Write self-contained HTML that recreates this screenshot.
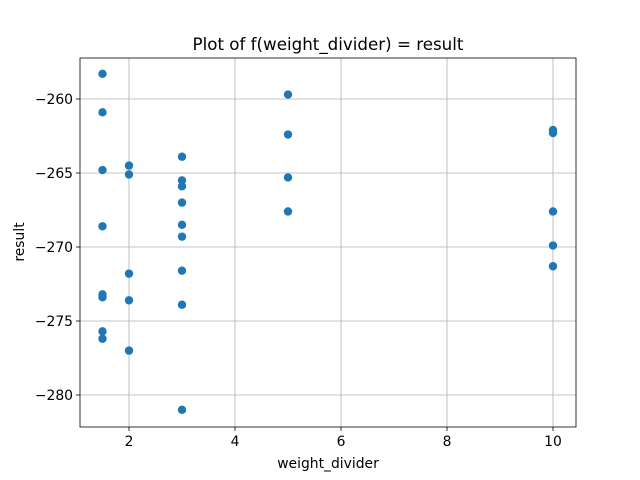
<!DOCTYPE html>
<html><head><meta charset="utf-8"><style>body{margin:0;background:#fff}svg{display:block;font-family:"DejaVu Sans","Liberation Sans",sans-serif}</style></head>
<body>
<svg id="c" width="640" height="480"></svg>
<script>
const xs=[1.5,1.5,1.5,1.5,1.5,1.5,1.5,1.5,2,2,2,2,2,3,3,3,3,3,3,3,3,3,5,5,5,5,10,10,10,10,10];
const ys=[-258.3,-260.9,-264.8,-268.6,-273.2,-273.4,-275.7,-276.2,-264.5,-265.1,-271.8,-273.6,-277.0,-263.9,-265.5,-265.9,-267.0,-268.5,-269.3,-271.6,-273.9,-281.0,-259.7,-262.4,-265.3,-267.6,-262.1,-262.3,-267.6,-269.9,-271.3];
const xTicks=[2,4,6,8,10];
const yTicks=[-260,-265,-270,-275,-280];
const L=80,R=576,T=58,B=427;
const X=v=>129+(v-2)*53;
const Y=v=>99+(-260-v)*14.8;
const svg=document.getElementById('c');const NS='http://www.w3.org/2000/svg';
function mk(t,a,txt){const e=document.createElementNS(NS,t);for(const k in a)e.setAttribute(k,a[k]);if(txt!==undefined)e.textContent=txt;svg.appendChild(e);return e;}
xTicks.forEach(t=>{const x=X(t);
let g=mk('line',{x1:x,x2:x,y1:T,y2:B,stroke:'#b0b0b0','stroke-width':0.8});


mk('line',{x1:x,x2:x,y1:B,y2:B+4,stroke:'#000','stroke-width':0.8});
let l=mk('text',{x:x,y:B+19,'font-size':13.9,'text-anchor':'middle'},String(t));

});
yTicks.forEach(t=>{const y=Y(t);
let g=mk('line',{x1:L,x2:R,y1:y,y2:y,stroke:'#b0b0b0','stroke-width':0.8});


mk('line',{x1:L-4,x2:L,y1:y,y2:y,stroke:'#000','stroke-width':0.8});
let l=mk('text',{x:L-7,y:y+5,'font-size':13.9,'text-anchor':'end'},'\u2212'+Math.abs(t));

});
xs.forEach((x,i)=>{let c=mk('circle',{cx:X(x),cy:Y(ys[i]),r:4.2,fill:'#1f77b4'});

});
let f=mk('rect',{x:L,y:T,width:R-L,height:B-T,fill:'none',stroke:'#000','stroke-width':0.8});


let t=mk('text',{x:328,y:50,'font-size':16.7,'text-anchor':'middle'},'Plot of f(weight_divider) = result');


let xl=mk('text',{x:328,y:468,'font-size':13.9,'text-anchor':'middle'},'weight_divider');


let yl=mk('text',{x:0,y:0,'font-size':13.9,'text-anchor':'middle',transform:'translate(24,242) rotate(-90)'},'result');


</script>
</body></html>
